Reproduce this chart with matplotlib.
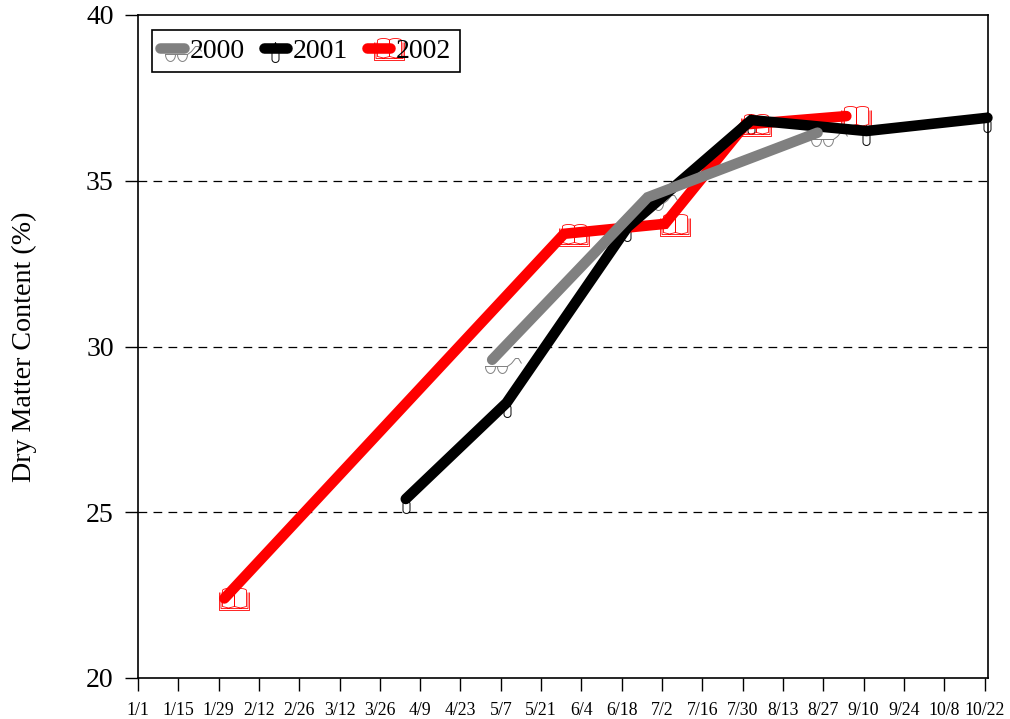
import numpy as np
import matplotlib
matplotlib.use("Agg")
import matplotlib.pyplot as plt
from matplotlib.path import Path
from matplotlib.lines import Line2D

plt.rcParams['font.family'] = ['Liberation Serif', 'DejaVu Serif']

# day of year
days_2000 = [123, 177, 236]
dm_2000 = [29.6, 34.5, 36.45]
days_2001 = [93, 128, 170, 213, 253, 295]
dm_2001 = [25.4, 28.3, 33.6, 36.83, 36.5, 36.9]
days_2002 = [30, 148, 183, 211, 246]
dm_2002 = [22.4, 33.4, 33.7, 36.7, 36.95]

tick_days = list(range(0, 295, 14))
tick_labels = ['1/1', '1/15', '1/29', '2/12', '2/26', '3/12', '3/26', '4/9', '4/23',
               '5/7', '5/21', '6/4', '6/18', '7/2', '7/16', '7/30', '8/13', '8/27',
               '9/10', '9/24', '10/8', '10/22']


def strokes(*lines):
    # build one open path out of several polylines (coordinates in pixels from the point)
    verts, codes = [], []
    for line in lines:
        for i, p in enumerate(line):
            verts.append(p)
            codes.append(Path.MOVETO if i == 0 else Path.LINETO)
    return Path(np.array(verts, dtype=float), codes)


def lens(cx, cy, w, h):
    t = np.linspace(0, np.pi, 12)
    pts = [(cx - w, cy)] + [(cx + w * np.cos(a), cy - h * np.sin(a)) for a in t[::-1]]
    pts.append((cx - w, cy))
    return pts


def page(x0, x1, bottom, top):
    # one side of the open book
    t = np.linspace(0, np.pi, 10)
    mid = (x0 + x1) / 2
    arc = [(mid + (x1 - x0) / 2 * np.cos(a), top + 2 * np.sin(a)) for a in t[::-1]]
    return [(x0, bottom)] + arc + [(x1, bottom), (mid, bottom - 1.5), (x0, bottom)]


# wingdings-like symbols: glasses, paperclip, open book
glasses = strokes(
    lens(-2, -6, 5, 7),
    lens(10, -6, 5, 7),
    [(3, -6), (5, -6)],
    [(15, -6), (19, -3), (23, 2), (26, 2), (29, -3)],
)
t_clip = np.linspace(0, np.pi, 8)
clip = strokes(
    [(-3.5, -4)]
    + [(0, 6)]
    + [(3.5, -4), (3.5, -11)]
    + [(3.5 * np.cos(a), -11 - 3 * np.sin(a)) for a in t_clip]
    + [(-3.5, -4)],
)
book = strokes(
    page(-2, 10, -8, 8),
    page(10, 22, -8, 8),
    [(-5, 6), (-5, -12), (10, -12), (25, -12), (25, 6)],
    [(-3.5, 6), (-3.5, -10), (10, -10), (23.5, -10), (23.5, 6)],
    [(10, -8), (10, 8)],
)


def marker_size(path):
    # matplotlib rescales a path marker so its largest coordinate is half of markersize
    return 2 * np.max(np.abs(path.vertices)) * 0.72


series = [
    ('2000', days_2000, dm_2000, '#808080', glasses, 0.7, 4),
    ('2001', days_2001, dm_2001, 'black', clip, 0.7, 3),
    ('2002', days_2002, dm_2002, '#ff0000', book, 0.6, 2),
]

fig = plt.figure(figsize=(10.10, 7.19), dpi=100)
ax = fig.add_axes([138 / 1010, 1 - 678 / 719, (988 - 138) / 1010, (678 - 15) / 719])

for value in [25, 30, 35]:
    ax.axhline(value, color='black', lw=0.9, ls=(0, (7, 5)), zorder=1)

handles = []
for name, x, y, color, mark, mew, z in series:
    ax.plot(x, y, ls='none', marker=mark, ms=marker_size(mark), mfc='none',
            mec=color, mew=mew, zorder=1.5, clip_on=False)
    ax.plot(x, y, color=color, lw=7.6, solid_capstyle='round', solid_joinstyle='miter',
            zorder=z, clip_on=False)
    handles.append(Line2D([], [], color=color, lw=7.6, solid_capstyle='round',
                          marker=mark, ms=marker_size(mark), mfc='none', mec=color, mew=mew))

ax.set_xlim(0, 295.2)
ax.set_ylim(20, 40)
ax.set_xticks(tick_days)
ax.set_xticklabels(tick_labels, fontsize=12.8)
ax.set_yticks([20, 25, 30, 35, 40])
ax.tick_params(axis='y', labelsize=20, length=9.5, width=1, pad=8)
ax.tick_params(axis='x', length=9, width=1, pad=8)
ax.set_ylabel('Dry Matter Content (%)', fontsize=20.2, labelpad=35)
for spine in ax.spines.values():
    spine.set_linewidth(1.2)

leg = ax.legend(handles, ['2000', '2001', '2002'], ncols=3, loc='upper left',
                bbox_to_anchor=(14 / 850, 1 - 15 / 663), fontsize=20, frameon=True,
                fancybox=False, framealpha=1, edgecolor='black', numpoints=1,
                handlelength=0.85, handletextpad=0.2, columnspacing=0.68,
                borderpad=0.3, borderaxespad=0)
leg.get_frame().set_linewidth(1.2)
leg.set_zorder(6)

fig.savefig('out.png', dpi=100)
